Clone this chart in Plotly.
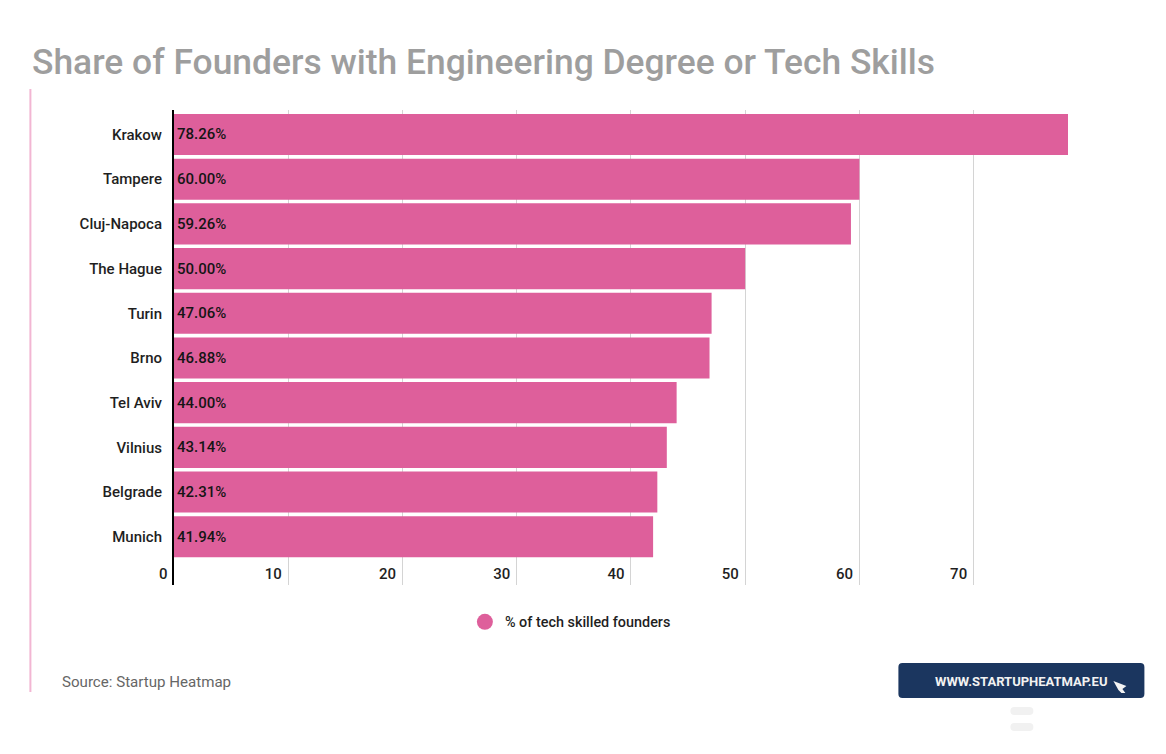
import plotly.graph_objects as go

cities = ["Krakow", "Tampere", "Cluj-Napoca", "The Hague", "Turin", "Brno", "Tel Aviv", "Vilnius", "Belgrade", "Munich"]
shares = [78.26, 60.00, 59.26, 50.00, 47.06, 46.88, 44.00, 43.14, 42.31, 41.94]
x_ticks = [10, 20, 30, 40, 50, 60, 70]
series_name = "% of tech skilled founders"
title_text = "Share of Founders with Engineering Degree or Tech Skills"
source_text = "Source: Startup Heatmap"
badge_text = "WWW.STARTUPHEATMAP.EU"

W, H = 1166, 754
L, R, T, B = 173.6, 1067.6, 110, 585
PINK = "#DE5F9B"
INK = "#1f1f1f"

def px(x):
    return (x - L) / (R - L)

def py(y):
    return (B - y) / (B - T)

def rrect(x0, y0, x1, y1, r):
    """Rounded rectangle given in page pixels, returned as a paper-space SVG path."""
    a, b, c, d = px(x0), px(x0 + r), px(x1 - r), px(x1)
    e, f, g, h = py(y0), py(y0 + r), py(y1 - r), py(y1)
    return (f"M {b} {e} L {c} {e} Q {d} {e} {d} {f} L {d} {g} Q {d} {h} {c} {h} "
            f"L {b} {h} Q {a} {h} {a} {g} L {a} {f} Q {a} {e} {b} {e} Z")

fig = go.Figure()
fig.add_trace(go.Bar(
    y=cities, x=shares, orientation="h", marker=dict(color=PINK, line_width=0),
    text=[f"{v:.2f}%" for v in shares], textposition="inside", insidetextanchor="start",
    textangle=0, textfont=dict(family="Roboto", size=15, color="#151515", weight=500),
    cliponaxis=False, showlegend=False, hoverinfo="skip", width=0.92,
))
fig.add_trace(go.Scatter(
    x=[None], y=[None], mode="markers", name=series_name,
    marker=dict(symbol="circle", size=19, color=PINK),
))

shapes = [
    dict(type="line", xref="paper", yref="paper", x0=px(30), x1=px(30), y0=py(89), y1=py(692),
         line=dict(color="#F2B6D3", width=2)),
    dict(type="path", xref="paper", yref="paper", path=rrect(898, 663, 1144, 698, 4),
         fillcolor="#1B365F", line_width=0),
    dict(type="path", xref="paper", yref="paper", path=rrect(1010, 707, 1033, 715, 4),
         fillcolor="#F1F1F1", line_width=0),
    dict(type="path", xref="paper", yref="paper", path=rrect(1010, 723, 1033, 731, 4),
         fillcolor="#F1F1F1", line_width=0),
    dict(type="path", xref="paper", yref="paper",
         path=(f"M {px(1113)} {py(681)} L {px(1126)} {py(686)} L {px(1122)} {py(689)} "
               f"L {px(1125)} {py(693)} L {px(1121)} {py(693)} L {px(1118)} {py(690)} Z"),
         fillcolor="#F4F4F4", line_width=0),
]

annotations = [
    dict(text=title_text, xref="paper", yref="paper", x=px(30), y=py(62), xanchor="left", yanchor="middle",
         showarrow=False, font=dict(family="Roboto", size=35.4, color="#9E9E9E", weight=500)),
    dict(text=source_text, xref="paper", yref="paper", x=px(60), y=py(682), xanchor="left", yanchor="middle",
         showarrow=False, font=dict(family="Roboto", size=15.1, color="#666666")),
    dict(text=badge_text, xref="paper", yref="paper", x=px(1021), y=py(681), xanchor="center", yanchor="middle",
         showarrow=False, font=dict(family="Roboto", size=13, color="#F2F2F2", weight=700)),
    dict(text="0", xref="x", yref="paper", x=0, y=py(574), xanchor="right", yanchor="middle", xshift=-4,
         showarrow=False, font=dict(family="Roboto", size=15, color=INK, weight=500)),
]

fig.update_layout(
    width=W, height=H, margin=dict(l=L, r=W - R, t=T, b=H - B, pad=0, autoexpand=False),
    paper_bgcolor="white", plot_bgcolor="white", bargap=0.08, shapes=shapes, annotations=annotations,
    font=dict(family="Roboto", size=15, color=INK),
    legend=dict(orientation="h", x=px(570), y=py(622), xanchor="center", yanchor="middle",
                font=dict(family="Roboto", size=14.4, color=INK, weight=500), itemwidth=30),
    xaxis=dict(range=[0, 78.26], tickvals=x_ticks, ticks="", showgrid=True, gridcolor="#D4D4D4", gridwidth=1,
               zeroline=False, showline=False, ticklabelposition="inside", ticklabelshift=-15,
               ticklabelstandoff=0, tickfont=dict(family="Roboto", size=15, color=INK, weight=500)),
    yaxis=dict(categoryorder="array", categoryarray=cities, range=[10.08, -0.548], showgrid=False, zeroline=False,
               showline=True, linecolor="#000000", linewidth=2, ticks="", ticklabelstandoff=7,
               tickfont=dict(family="Roboto", size=15, color=INK, weight=500)),
)

fig.write_html("out.html", config=dict(displayModeBar=False),
               post_script="document.body.style.margin='0';document.documentElement.style.overflow='hidden';")
